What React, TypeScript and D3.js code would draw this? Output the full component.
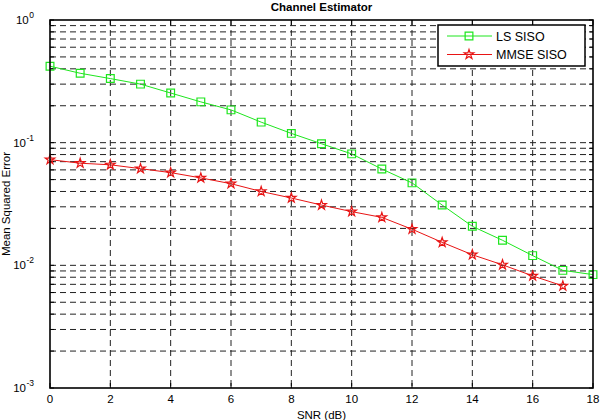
import React from 'react';
import * as d3 from 'd3';

const WIDTH = 601;
const HEIGHT = 420;

const snr = [0, 1, 2, 3, 4, 5, 6, 7, 8, 9, 10, 11, 12, 13, 14, 15, 16, 17, 18];
const lsSiso = [
  0.42, 0.368, 0.333, 0.3, 0.254, 0.215, 0.185, 0.147, 0.119, 0.098, 0.081,
  0.061, 0.047, 0.031, 0.0208, 0.016, 0.012, 0.0091, 0.0084,
];
const mmseSnr = [0, 1, 2, 3, 4, 5, 6, 7, 8, 9, 10, 11, 12, 13, 14, 15, 16, 17];
const mmseSiso = [
  0.0727, 0.068, 0.066, 0.0614, 0.057, 0.0516, 0.0463, 0.04, 0.0354, 0.031,
  0.0274, 0.0246, 0.0197, 0.0154, 0.0122, 0.0101, 0.0082, 0.0068,
];
const xTicks = [0, 2, 4, 6, 8, 10, 12, 14, 16, 18];
const yDecades = [-3, -2, -1, 0];
const seriesNames = ['LS SISO', 'MMSE SISO'];

const margin = { l: 50, r: 8, t: 20, b: 32 };
const GREEN = '#1ee61e';
const RED = '#e81414';
const FONT = 'Liberation Sans, Arial, sans-serif';

const App = () => {
  const w = WIDTH - margin.l - margin.r;
  const h = HEIGHT - margin.t - margin.b;

  const xScale = d3.scaleLinear().domain([0, 18]).range([0, w]);
  const yScale = d3.scaleLog().domain([1e-3, 1]).range([h, 0]);

  // minor grid values 2..9 x each decade
  const minor: number[] = [];
  yDecades.slice(0, 3).forEach((e) => {
    for (let m = 2; m <= 9; m++) minor.push(m * Math.pow(10, e));
  });

  const line = d3
    .line<[number, number]>()
    .x((d) => xScale(d[0]))
    .y((d) => yScale(d[1]));

  const square = d3.symbol().type(d3.symbolSquare).size(60)();
  const star = d3.symbol().type(d3.symbolStar).size(28)();

  const lsPts: [number, number][] = snr.map((x, i) => [x, lsSiso[i]]);
  const mmPts: [number, number][] = mmseSnr.map((x, i) => [x, mmseSiso[i]]);

  const dash = '6,4';

  return (
    <svg
      width={WIDTH}
      height={HEIGHT}
      style={{ position: 'absolute', left: 0, top: 0, background: '#fff' }}
      fontFamily={FONT}
    >
      <rect width={WIDTH} height={HEIGHT} fill="#fff" />
      <text
        x={margin.l + w / 2}
        y={11}
        textAnchor="middle"
        fontSize={11.5}
        fontWeight="bold"
      >
        Channel Estimator
      </text>
      <g transform={`translate(${margin.l}, ${margin.t})`}>
        {/* vertical grid */}
        {xTicks.slice(1, -1).map((t) => (
          <line
            key={'gx' + t}
            x1={xScale(t)}
            x2={xScale(t)}
            y1={0}
            y2={h}
            stroke="#222"
            strokeDasharray={dash}
          />
        ))}
        {/* horizontal grid, majors and minors */}
        {[...yDecades.slice(1, 3).map((e) => Math.pow(10, e)), ...minor].map((v) => (
          <line
            key={'gy' + v}
            x1={0}
            x2={w}
            y1={yScale(v)}
            y2={yScale(v)}
            stroke="#222"
            strokeDasharray={dash}
          />
        ))}
        {/* tick marks inside box */}
        {xTicks.map((t) => (
          <g key={'tx' + t}>
            <line x1={xScale(t)} x2={xScale(t)} y1={h} y2={h - 5} stroke="#000" />
            <line x1={xScale(t)} x2={xScale(t)} y1={0} y2={5} stroke="#000" />
          </g>
        ))}
        {[...yDecades.map((e) => Math.pow(10, e)), ...minor].map((v) => (
          <g key={'ty' + v}>
            <line x1={0} x2={4} y1={yScale(v)} y2={yScale(v)} stroke="#000" />
            <line x1={w} x2={w - 4} y1={yScale(v)} y2={yScale(v)} stroke="#000" />
          </g>
        ))}

        {/* series */}
        <path d={line(lsPts) || ''} fill="none" stroke={GREEN} strokeWidth={1} />
        {lsPts.map((d, i) => (
          <path
            key={'ls' + i}
            d={square || ''}
            transform={`translate(${xScale(d[0])}, ${yScale(d[1])})`}
            fill="none"
            stroke={GREEN}
            strokeWidth={1.2}
          />
        ))}
        <path d={line(mmPts) || ''} fill="none" stroke={RED} strokeWidth={1} />
        {mmPts.map((d, i) => (
          <path
            key={'mm' + i}
            d={star || ''}
            transform={`translate(${xScale(d[0])}, ${yScale(d[1])})`}
            fill="none"
            stroke={RED}
            strokeWidth={1.2}
          />
        ))}

        {/* axes box */}
        <rect x={0} y={0} width={w} height={h} fill="none" stroke="#000" strokeWidth={1.6} />

        {/* x tick labels */}
        {xTicks.map((t) => (
          <text key={'lx' + t} x={xScale(t)} y={h + 15} textAnchor="middle" fontSize={11.5}>
            {t}
          </text>
        ))}
        {/* y tick labels */}
        {yDecades.map((e) => (
          <text key={'ly' + e} x={-16} y={yScale(Math.pow(10, e)) + 4} textAnchor="end" fontSize={11.5}>
            10
            <tspan dx={0.5} dy={-6} fontSize={8.5}>
              {e}
            </tspan>
          </text>
        ))}

        {/* legend */}
        <g transform={`translate(${w - 155}, 5)`}>
          <rect x={0} y={0} width={147} height={41} fill="#fff" stroke="#000" strokeWidth={1.5} />
          {seriesNames.map((name, i) => {
            const cy = 11 + i * 18.5;
            const c = i === 0 ? GREEN : RED;
            return (
              <g key={name}>
                <line x1={9} x2={54} y1={cy} y2={cy} stroke={c} strokeWidth={1} />
                <path
                  d={(i === 0 ? square : star) || ''}
                  transform={`translate(31, ${cy})`}
                  fill="none"
                  stroke={c}
                  strokeWidth={1.2}
                />
                <text x={58} y={cy + 4.5} fontSize={12.5}>
                  {name}
                </text>
              </g>
            );
          })}
        </g>
      </g>
      <text x={margin.l + w / 2} y={HEIGHT - 1} textAnchor="middle" fontSize={11.5}>
        SNR (dB)
      </text>
      <text
        transform={`translate(10, ${margin.t + h / 2}) rotate(-90)`}
        textAnchor="middle"
        fontSize={11.5}
      >
        Mean Squared Error
      </text>
    </svg>
  );
};

export default App;
